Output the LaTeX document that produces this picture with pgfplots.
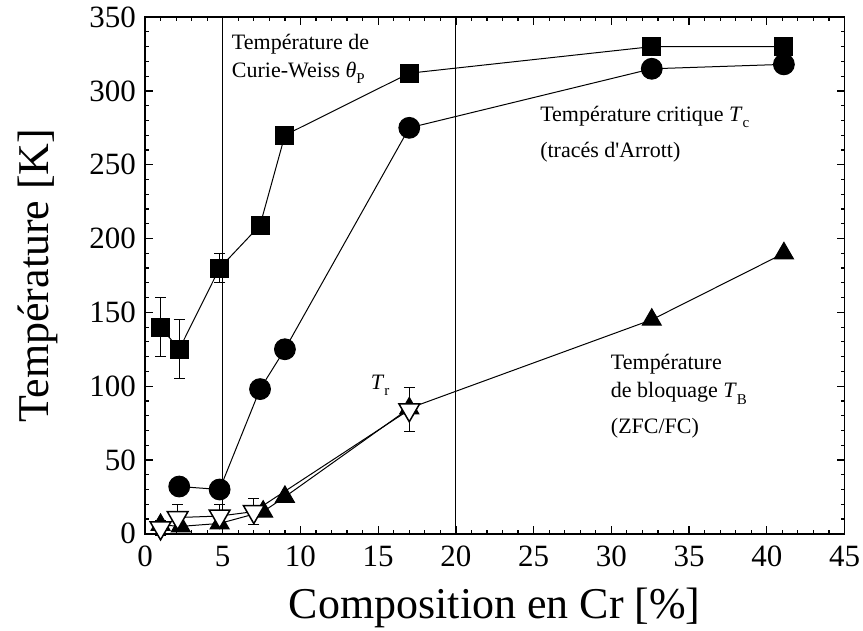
\documentclass[border=0pt]{standalone}
\usepackage{fontspec}
\setmainfont{Liberation Serif}
\usepackage{pgfplots}
\pgfplotsset{compat=1.18}

\newcommand{\ann}{\fontsize{11}{13}\selectfont}
\newcommand{\sub}[1]{\raisebox{-0.6ex}{\fontsize{7.5}{8}\selectfont #1}}

\begin{document}
\begin{tikzpicture}
\begin{axis}[
    scale only axis,
    width=350pt,
    height=258.5pt,
    xmin=0, xmax=45,
    ymin=0, ymax=350,
    xtick={0,5,...,45},
    ytick={0,50,...,350},
    minor x tick num=4,
    minor y tick num=4,
    tick align=inside,
    major tick length=4pt,
    minor tick length=2pt,
    axis line style={line width=0.75pt},
    every tick/.style={black, line width=0.6pt},
    /pgf/number format/assume math mode=true,
    tick label style={font=\fontsize{15.5}{16}\selectfont},
    xticklabel style={inner xsep=1.5pt, yshift=-2.5pt},
    yticklabel style={xshift=-1pt},
    xlabel={Composition en Cr [\%]},
    ylabel={Température [K]},
    label style={font=\fontsize{22}{24}\selectfont},
    xlabel style={at={(axis description cs:0.5,-0.1644)}, anchor=base, inner sep=1pt},
    ylabel style={at={(axis description cs:-0.1379,0.5)}, anchor=base, inner ysep=9pt},
    clip=false,
]
% lignes verticales
\addplot[black, line width=0.5pt, forget plot] coordinates {(5,0) (5,350)};
\addplot[black, line width=0.5pt, forget plot] coordinates {(20,0) (20,350)};

% barres d'erreur
\addplot[only marks, mark=*, mark size=0.1pt, forget plot,
    error bars/.cd, y dir=both, y explicit,
    error mark=|,
    error bar style={black, line width=0.5pt},
    error mark options={black, mark size=2.75pt, line width=0.5pt}]
  coordinates {
    (1,140) +- (0,20)
    (2.2,125) +- (0,20)
    (4.8,180) +- (0,10)
    (1,4) +- (0,5)
    (2.1,11) +- (0,9)
    (4.8,12) +- (0,8)
    (7.0,15) +- (0,9)
    (17,84) +- (0,15)
  };

% theta_P (carres)
\addplot[black, line width=0.5pt, mark=square*, mark size=4.5pt,
    mark options={fill=black, solid}]
  coordinates {
    (1,140) (2.2,125) (4.8,180) (7.4,209) (9.0,270)
    (17,312) (32.6,330) (41.1,330)
  };

% T_c (cercles)
\addplot[black, line width=0.5pt, mark=*, mark size=5.2pt,
    mark options={fill=black, solid}]
  coordinates {
    (2.2,32) (4.8,30) (7.4,98) (9.0,125)
    (17,275) (32.6,315) (41.1,318)
  };

% T_B (triangles pleins)
\addplot[black, line width=0.5pt, mark=triangle*, mark size=5.5pt,
    mark options={fill=black, solid}]
  coordinates {
    (1,6) (2.3,5) (4.8,7) (7.6,15) (9.0,25)
    (17,85) (32.6,145) (41.1,190)
  };

% T_r (triangles ouverts)
\addplot[black, line width=0.5pt, mark=triangle*, mark size=6pt,
    mark options={fill=white, draw=black, rotate=180, line width=0.75pt, solid}]
  coordinates {
    (1,4) (2.1,11) (4.8,12) (7.0,15) (17,84)
  };

% annotations
\node[anchor=base west, font=\ann, inner sep=0pt] at (axis cs:5.57,328) {Température de};
\node[anchor=base west, font=\ann, inner sep=0pt] at (axis cs:5.57,309) {Curie-Weiss \textit{θ}\sub{P}};
\node[anchor=base west, font=\ann, inner sep=0pt] at (axis cs:25.4,279) {Température critique \textit{T}\sub{c}};
\node[anchor=base west, font=\ann, inner sep=0pt] at (axis cs:25.4,255) {(tracés d\textquotesingle Arrott)};
\node[anchor=base west, font=\ann, inner sep=0pt] at (axis cs:14.5,98) {\textit{T}\sub{r}};
\node[anchor=base west, font=\ann, inner sep=0pt] at (axis cs:29.95,111) {Température};
\node[anchor=base west, font=\ann, inner sep=0pt] at (axis cs:29.95,92) {de bloquage \textit{T}\sub{B}};
\node[anchor=base west, font=\ann, inner sep=0pt] at (axis cs:29.95,68) {(ZFC/FC)};
\end{axis}
\end{tikzpicture}
\end{document}
